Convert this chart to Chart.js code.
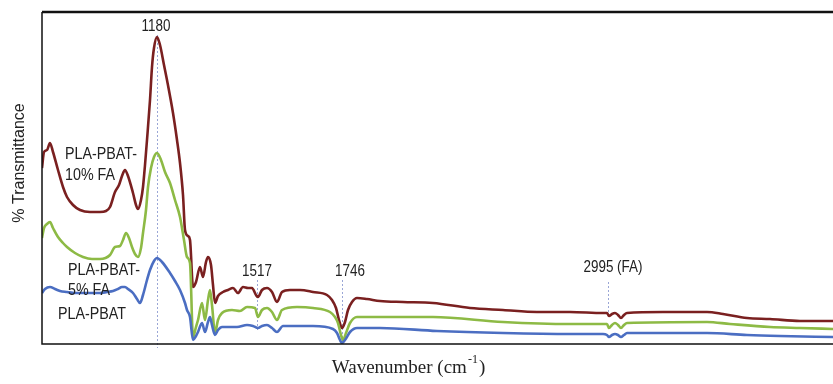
<!DOCTYPE html>
<html>
<head>
<meta charset="utf-8">
<title>FTIR spectra</title>
<script src="https://cdn.jsdelivr.net/npm/chart.js@4.4.1/dist/chart.umd.min.js"></script>
<style>
    html, body { margin: 0; padding: 0; background: #ffffff; }
    #wrap { width: 833px; height: 384px; position: relative; }
</style>
</head>
<body>
<div id="wrap"><canvas id="ftirChart"></canvas></div>
<script>
// Spectra (x = position along the wavenumber axis, y = relative transmittance)
const pbat10X = [0, 2, 5, 8, 11, 16, 21, 25, 31, 38, 48, 58, 64, 68, 73, 77, 80, 83, 86, 91, 94, 96, 99, 101, 103, 105, 108, 110, 112, 115, 118, 122, 125, 131, 135, 138, 141, 143, 146, 148, 151, 154, 158, 161, 164, 166, 169, 171, 173, 176, 181, 186, 191, 196, 201, 206, 210, 214, 216, 220, 225, 230, 235, 240, 248, 258, 271, 285, 290, 294, 297, 300, 303, 306, 310, 315, 325, 338, 361, 391, 428, 461, 495, 528, 561, 565, 567, 570, 573, 576, 579, 582, 585, 621, 665, 681, 705, 728, 758, 791];
const pbat10Y = [176, 192, 194, 201, 192, 174, 157, 147, 139, 134, 132, 132, 133, 137, 152, 159, 168, 174, 168, 151, 139, 135, 144, 157, 179, 204, 244, 277, 296, 307, 299, 279, 264, 231, 204, 181, 149, 114, 108, 104, 57, 62, 77, 67, 82, 87, 79, 59, 41, 48, 52, 54, 56, 51, 57, 56, 56, 49, 47, 54, 56, 52, 42, 52, 54, 54, 52, 49, 44, 36, 24, 16, 22, 34, 42, 46, 45, 43, 42, 41, 36, 34, 32, 32, 31, 31, 28, 30, 31, 29, 26, 29, 31, 32, 32, 30, 26, 25, 23, 23];

const pbat5X = [0, 2, 5, 8, 11, 16, 21, 25, 33, 41, 50, 58, 68, 73, 78, 81, 84, 87, 90, 93, 96, 99, 101, 104, 106, 109, 112, 115, 119, 123, 128, 133, 138, 142, 145, 148, 151, 154, 156, 160, 163, 166, 168, 170, 173, 176, 180, 190, 198, 205, 213, 216, 220, 225, 230, 235, 240, 255, 271, 288, 293, 296, 299, 301, 304, 308, 315, 338, 391, 461, 528, 561, 565, 567, 570, 573, 576, 579, 582, 585, 665, 688, 728, 758, 791];
const pbat5Y = [106, 116, 120, 122, 116, 107, 101, 97, 91, 87, 85, 85, 89, 97, 98, 104, 111, 106, 97, 90, 87, 96, 111, 134, 157, 176, 187, 191, 184, 172, 161, 144, 127, 104, 87, 81, 7, 17, 24, 41, 24, 44, 54, 39, 11, 24, 31, 34, 33, 37, 36, 27, 34, 36, 32, 24, 34, 37, 36, 32, 27, 21, 9, 4, 11, 21, 27, 27, 27, 22, 20, 20, 20, 16, 19, 21, 19, 16, 19, 21, 22, 20, 17, 16, 15];

const pbatX = [0, 3, 8, 13, 18, 25, 33, 41, 50, 58, 65, 71, 76, 80, 83, 86, 91, 95, 98, 101, 105, 108, 112, 115, 120, 128, 133, 138, 143, 145, 148, 151, 154, 156, 160, 163, 166, 168, 170, 173, 176, 180, 195, 205, 211, 216, 220, 225, 230, 235, 241, 271, 291, 295, 298, 300, 303, 308, 315, 338, 395, 461, 528, 561, 565, 567, 570, 573, 576, 579, 582, 585, 665, 705, 738, 791];
const pbatY = [51, 55, 57, 55, 53, 52, 51, 51, 51, 51, 52, 53, 55, 57, 57, 55, 51, 45, 41, 49, 64, 74, 83, 86, 82, 71, 63, 54, 41, 34, 27, 4, 8, 12, 21, 12, 22, 27, 19, 9, 14, 17, 17, 19, 18, 16, 18, 19, 16, 12, 18, 18, 15, 11, 4, 1, 4, 12, 16, 16, 13, 11, 10, 10, 9, 7, 9, 10, 9, 7, 9, 11, 11, 9, 8, 7];

// Marked bands
const bandLabels = ['1180', '1517', '1746', '2995 (FA)'];
const bandX = [115, 215, 300, 566];

// Series names (drawn next to the curves)
const seriesNames = [['PLA-PBAT-', '10% FA'], ['PLA-PBAT-', '5% FA'], ['PLA-PBAT']];
const seriesColors = ['#7a2020', '#8dba45', '#4b6ec2'];

const xRange = [0, 791];
const yRange = [0, 332];

function toPoints(xs, ys) {
    return xs.map((x, i) => ({ x: x, y: ys[i] }));
}

// Where the band labels / dotted guides and series names sit (data units)
const bandGuides = [
    { textX: 114, textY: 317, from: -4, to: 309 },
    { textX: 215, textY: 72, from: 14, to: 64 },
    { textX: 308, textY: 72, from: 0, to: 64 },
    { textX: 571, textY: 76, from: 26, to: 62 }
];
const nameSpots = [
    { x: 23, y: [190, 169] },
    { x: 26, y: [74, 54] },
    { x: 16, y: [30] }
];

const SANS = '"Liberation Sans", Arial, sans-serif';
const NARROW_SCALE = 0.84; // the figure uses a condensed face

// draw text squeezed horizontally, anchored like fillText
function narrowText(ctx, text, x, y, align) {
    ctx.save();
    ctx.translate(x, y);
    ctx.scale(NARROW_SCALE, 1);
    ctx.textAlign = align;
    ctx.fillText(text, 0, 0);
    ctx.restore();
}

/**
 * Frame, dotted guides and all text
 */
const decorPlugin = {
    id: 'decor',
    beforeDatasetsDraw(chart) {
        const { ctx, scales } = chart;
        const xs = scales.x, ys = scales.y;
        ctx.save();
        ctx.strokeStyle = '#9aa6d6';
        ctx.lineWidth = 1;
        ctx.setLineDash([2, 2]);
        bandX.forEach((b, i) => {
            const g = bandGuides[i];
            const px = Math.round(xs.getPixelForValue(b)) + 0.5;
            ctx.beginPath();
            ctx.moveTo(px, ys.getPixelForValue(g.to));
            ctx.lineTo(px, ys.getPixelForValue(g.from));
            ctx.stroke();
        });
        ctx.restore();
    },
    afterDatasetsDraw(chart) {
        const { ctx, chartArea: a, scales } = chart;
        const xs = scales.x, ys = scales.y;
        ctx.save();

        // frame
        ctx.strokeStyle = '#111';
        ctx.lineWidth = 2.5;
        ctx.beginPath();
        ctx.moveTo(a.left, a.top);
        ctx.lineTo(a.right, a.top);
        ctx.stroke();
        ctx.lineWidth = 1.5;
        ctx.beginPath();
        ctx.moveTo(a.left, a.top);
        ctx.lineTo(a.left, a.bottom);
        ctx.lineTo(a.right, a.bottom);
        ctx.stroke();

        // band labels
        ctx.fillStyle = '#222';
        ctx.font = '16px ' + SANS;
        ctx.textBaseline = 'middle';
        bandLabels.forEach((t, i) => {
            const g = bandGuides[i];
            narrowText(ctx, t, xs.getPixelForValue(g.textX), ys.getPixelForValue(g.textY), 'center');
        });

        // series names
        ctx.font = '17px ' + SANS;
        seriesNames.forEach((lines, i) => {
            const s = nameSpots[i];
            lines.forEach((line, j) => {
                narrowText(ctx, line, xs.getPixelForValue(s.x), ys.getPixelForValue(s.y[j]), 'left');
            });
        });

        // y axis title
        ctx.save();
        ctx.translate(a.left - 23, a.top + 151);
        ctx.rotate(-Math.PI / 2);
        ctx.textAlign = 'center';
        ctx.font = '17px ' + SANS;
        ctx.scale(0.94, 1);
        ctx.fillText('% Transmittance', 0, 0);
        ctx.restore();

        // x axis title with superscript
        ctx.textBaseline = 'alphabetic';
        ctx.textAlign = 'left';
        const main = 'Wavenumber (cm';
        const sup = '-1';
        const close = ')';
        const bigFont = '19px "Liberation Serif", "Times New Roman", serif';
        const supFont = '12px "Liberation Serif", "Times New Roman", serif';
        ctx.font = bigFont;
        const w1 = ctx.measureText(main).width;
        const w3 = ctx.measureText(close).width;
        ctx.font = supFont;
        const w2 = ctx.measureText(sup).width;
        let x0 = (a.left + a.right) / 2 - (w1 + w2 + w3) / 2 - 30;
        const base = a.bottom + 29;
        ctx.font = bigFont;
        ctx.fillText(main, x0, base);
        ctx.font = supFont;
        ctx.fillText(sup, x0 + w1 + 1, base - 10);
        ctx.font = bigFont;
        ctx.fillText(close, x0 + w1 + w2 + 2, base);

        ctx.restore();
    }
};

const makeSeries = (label, xs, ys, color) => ({
    label: label,
    data: toPoints(xs, ys),
    borderColor: color,
    backgroundColor: color,
    borderWidth: 2.6,
    pointRadius: 0,
    cubicInterpolationMode: 'monotone',
    fill: false
});

document.addEventListener('DOMContentLoaded', () => {
    const ctx = document.getElementById('ftirChart');
    new Chart(ctx, {
        type: 'line',
        data: {
            datasets: [
                makeSeries('PLA-PBAT', pbatX, pbatY, seriesColors[2]),
                makeSeries('PLA-PBAT-5% FA', pbat5X, pbat5Y, seriesColors[1]),
                makeSeries('PLA-PBAT-10% FA', pbat10X, pbat10Y, seriesColors[0])
            ]
        },
        options: {
            responsive: true,
            maintainAspectRatio: false,
            animation: false,
            layout: { padding: { left: 42, top: 12, right: 0, bottom: 40 } },
            plugins: {
                legend: { display: false },
                tooltip: { enabled: false }
            },
            scales: {
                x: { type: 'linear', display: false, min: xRange[0], max: xRange[1] },
                y: { type: 'linear', display: false, min: yRange[0], max: yRange[1] }
            }
        },
        plugins: [decorPlugin]
    });
});
</script>
</body>
</html>
